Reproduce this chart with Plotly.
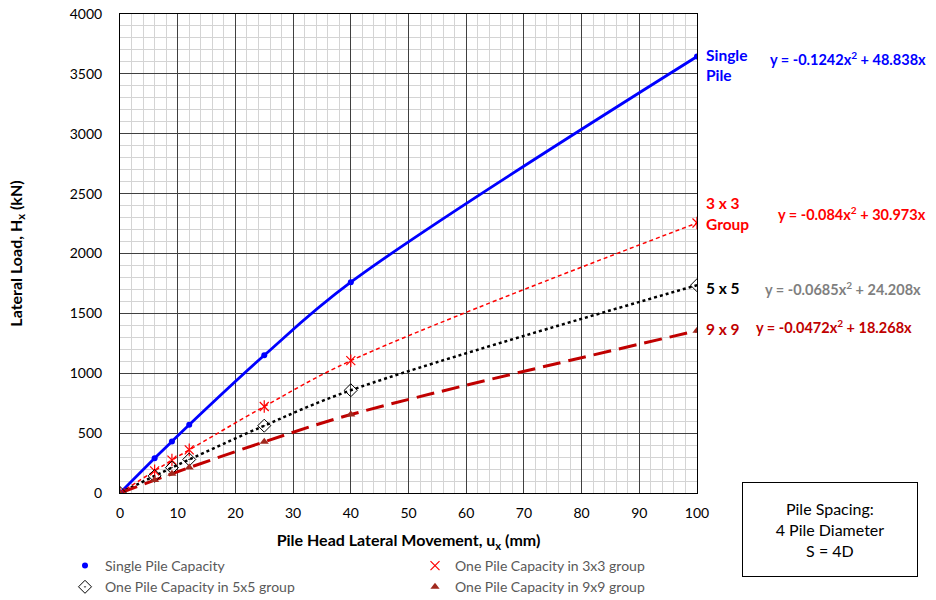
import plotly.graph_objects as go

# ---- data ----
x_mm = [0, 6, 9, 12, 25, 40, 100]
single_pile = [0, 290, 430, 570, 1150, 1760, 3645]
group_3x3 = [0, 185, 275, 360, 722, 1105, 2255]
group_5x5 = [0, 143, 212, 280, 562, 858, 1735]
group_9x9 = [0, 108, 160, 212, 427, 655, 1355]

series_names = ["Single Pile Capacity", "One Pile Capacity in 3x3 group",
                "One Pile Capacity in 5x5 group", "One Pile Capacity in 9x9 group"]
equations = ["y = -0.1242x<sup>2</sup> + 48.838x", "y = -0.084x<sup>2</sup> + 30.973x",
             "y = -0.0685x<sup>2</sup> + 24.208x", "y = -0.0472x<sup>2</sup> + 18.268x"]
end_labels = [["Single", "Pile"], ["3 x 3", "Group"], ["5 x 5"], ["9 x 9"]]
x_ticks = list(range(0, 101, 10))
y_ticks = list(range(0, 4001, 500))

FONT = "Lato"
BLUE = "#0000FF"
RED = "#FF0000"
DRED = "#C00000"
BROWN = "#A0281E"

FIG_W, FIG_H = 936, 600
L, R, T, B = 120, 697, 14, 493
PW, PH = R - L, B - T


def px_x(p):
    return (p - L) / PW


def px_y(p):
    return (B - p) / PH


fig = go.Figure()

# trend lines (smooth curves through the points)
line_styles = [
    (single_pile, dict(color=BLUE, width=2.8, dash="solid")),
    (group_3x3, dict(color=RED, width=1.5, dash="4px,3px")),
    (group_5x5, dict(color="black", width=2.5, dash="dot")),
    (group_9x9, dict(color=DRED, width=3, dash="18px,8px")),
]
for ys, ln in line_styles:
    fig.add_trace(go.Scatter(x=x_mm, y=ys, mode="lines", line=dict(shape="spline", smoothing=1.0, **ln),
                             showlegend=False, hoverinfo="skip"))

# markers
fig.add_trace(go.Scatter(x=x_mm, y=single_pile, mode="markers", name=series_names[0], legend="legend",
                         marker=dict(symbol="circle", size=6, color=BLUE)))
fig.add_trace(go.Scatter(x=x_mm, y=group_3x3, mode="markers", name=series_names[1], legend="legend2",
                         marker=dict(symbol="x-thin-open", size=9, color=RED,
                                     line=dict(color=RED, width=1.2))))
fig.add_trace(go.Scatter(x=x_mm, y=group_3x3, mode="markers", showlegend=False, hoverinfo="skip",
                         marker=dict(symbol="line-ns-open", size=9, color=RED,
                                     line=dict(color=RED, width=1.2))))
fig.add_trace(go.Scatter(x=x_mm, y=group_5x5, mode="markers", name=series_names[2], legend="legend",
                         marker=dict(symbol="diamond-open-dot", size=10, color="black",
                                     line=dict(color="black", width=1))))
fig.add_trace(go.Scatter(x=x_mm, y=group_9x9, mode="markers", name=series_names[3], legend="legend2",
                         marker=dict(symbol="triangle-up", size=8, color=BROWN)))

# end labels (each line placed separately) and equations, positions in reference pixels
label_rows = [[55, 75], [203, 224], [288], [329]]
label_colors = [BLUE, RED, "black", DRED]
eq_colors = [BLUE, RED, "#7F7F7F", DRED]
eq_rows = [58, 213, 288, 326]
eq_right = [928, 928, 923, 914]
for i in range(4):
    for txt, yp in zip(end_labels[i], label_rows[i]):
        fig.add_annotation(x=px_x(704), y=px_y(yp), xref="paper", yref="paper", text=txt, showarrow=False,
                           xanchor="left", yanchor="middle", align="left",
                           font=dict(family=FONT, size=15.5, color=label_colors[i], weight="bold"))
    fig.add_annotation(x=px_x(eq_right[i]), y=px_y(eq_rows[i]), xref="paper", yref="paper",
                       text=equations[i], showarrow=False, xanchor="right", yanchor="middle", align="right",
                       font=dict(family=FONT, size=14.5, color=eq_colors[i], weight="bold"))

# Pile spacing box
fig.add_annotation(x=px_x(830), y=px_y(529.5), xref="paper", yref="paper",
                   text="Pile Spacing:<br>4 Pile Diameter<br>S = 4D", showarrow=False,
                   xanchor="center", yanchor="middle", align="center",
                   font=dict(family=FONT, size=16, color="black"),
                   bordercolor="black", borderwidth=1, borderpad=0, bgcolor="white",
                   width=174, height=93)

axis_common = dict(showline=True, linecolor="black", linewidth=1, mirror=True,
                   gridcolor="#404040", gridwidth=1, zeroline=False, ticks="",
                   ticklabeloverflow="allow",
                   tickfont=dict(family=FONT, size=14, color="black"),
                   minor=dict(showgrid=True, gridcolor="#D4D4D4", gridwidth=1))

fig.update_xaxes(range=[0, 100], tickvals=x_ticks, minor_dtick=2, ticklabelstandoff=7,
                 title=dict(text="Pile Head Lateral Movement, u<sub>x</sub> (mm)",
                            font=dict(family=FONT, size=16, color="black", weight="bold"), standoff=15),
                 **axis_common)
fig.update_yaxes(range=[0, 4000], tickvals=y_ticks, minor_dtick=100, ticklabelstandoff=14,
                 title=dict(text="Lateral Load, H<sub>x</sub> (kN)",
                            font=dict(family=FONT, size=16, color="black", weight="bold"), standoff=43),
                 **axis_common)

legend_font = dict(family=FONT, size=14, color="#595959")
fig.update_layout(
    width=FIG_W, height=FIG_H,
    margin=dict(l=L, r=FIG_W - R, t=T, b=FIG_H - B, autoexpand=False),
    paper_bgcolor="white", plot_bgcolor="white",
    font=dict(family=FONT),
    legend=dict(x=px_x(65), y=px_y(550), xanchor="left", yanchor="top", traceorder="normal",
                font=legend_font, itemwidth=30, bgcolor="rgba(0,0,0,0)"),
    legend2=dict(x=px_x(415), y=px_y(550), xanchor="left", yanchor="top", traceorder="normal",
                 font=legend_font, itemwidth=30, bgcolor="rgba(0,0,0,0)"),
)

# remove the default page margin so the 936x600 figure fills the window exactly
fig.write_html("out.html", config={"displayModeBar": False},
               post_script="document.body.style.margin='0';document.body.style.overflow='hidden';")
